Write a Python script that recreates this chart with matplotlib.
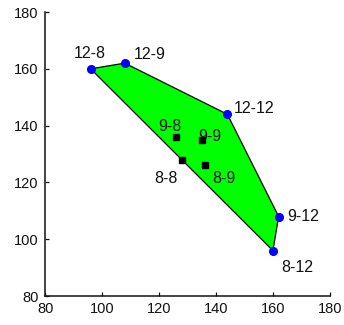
import matplotlib
matplotlib.use("Agg")
from matplotlib import pyplot as plt
from matplotlib.patches import Polygon

plt.rcParams['font.family'] = ['Liberation Sans', 'DejaVu Sans']

# outer points (convex hull, in drawing order)
hull_names = ['12-8', '12-9', '12-12', '9-12', '8-12']
hull_x = [96, 108, 144, 162, 160]
hull_y = [160, 162, 144, 108, 96]

# inner points
inner_names = ['9-8', '9-9', '8-8', '8-9']
inner_x = [126, 135, 128, 136]
inner_y = [136, 135, 128, 126]

# label offsets in pixels (dx, dy, ha, va)
hull_offsets = [(-1, 11, 'center', 'baseline'), (9, 4, 'left', 'baseline'),
                (6, 1, 'left', 'baseline'), (9, 0, 'left', 'center'),
                (8, -21, 'left', 'baseline')]
inner_offsets = [(-6, 6, 'center', 'baseline'), (-3, -1, 'left', 'baseline'),
                 (-4, -23, 'right', 'baseline'), (8, -18, 'left', 'baseline')]

fig = plt.figure(figsize=(3.44, 3.25), dpi=100)
ax = fig.add_axes([0.131, 0.089, 0.828, 0.874])

poly = Polygon(list(zip(hull_x, hull_y)), closed=True, facecolor='#00ff00',
               edgecolor='black', linewidth=0.9, zorder=1)
ax.add_patch(poly)

ax.plot(hull_x, hull_y, linestyle='none', marker='o', markersize=5.5,
        color='blue', zorder=3)
ax.plot(inner_x, inner_y, linestyle='none', marker='s', markersize=4.2,
        color='black', zorder=3)

for name, x, y, (dx, dy, ha, va) in zip(hull_names, hull_x, hull_y, hull_offsets):
    ax.annotate(name, (x, y), xytext=(dx, dy), textcoords='offset pixels',
                ha=ha, va=va, fontsize=11.5, color='#111111')
for name, x, y, (dx, dy, ha, va) in zip(inner_names, inner_x, inner_y, inner_offsets):
    ax.annotate(name, (x, y), xytext=(dx, dy), textcoords='offset pixels',
                ha=ha, va=va, fontsize=11.5, color='#111111')

ax.set_xlim(80, 180)
ax.set_ylim(80, 180)
ax.set_xticks([80, 100, 120, 140, 160, 180])
ax.set_yticks([80, 100, 120, 140, 160, 180])
ax.tick_params(direction='in', length=3, width=0.9, labelsize=10.5, pad=4.5,
               colors='#111111')
ax.spines['top'].set_visible(False)
ax.spines['right'].set_visible(False)
for s in ['left', 'bottom']:
    ax.spines[s].set_linewidth(1.1)
    ax.spines[s].set_color('#111111')

fig.savefig('out.png', dpi=100)
